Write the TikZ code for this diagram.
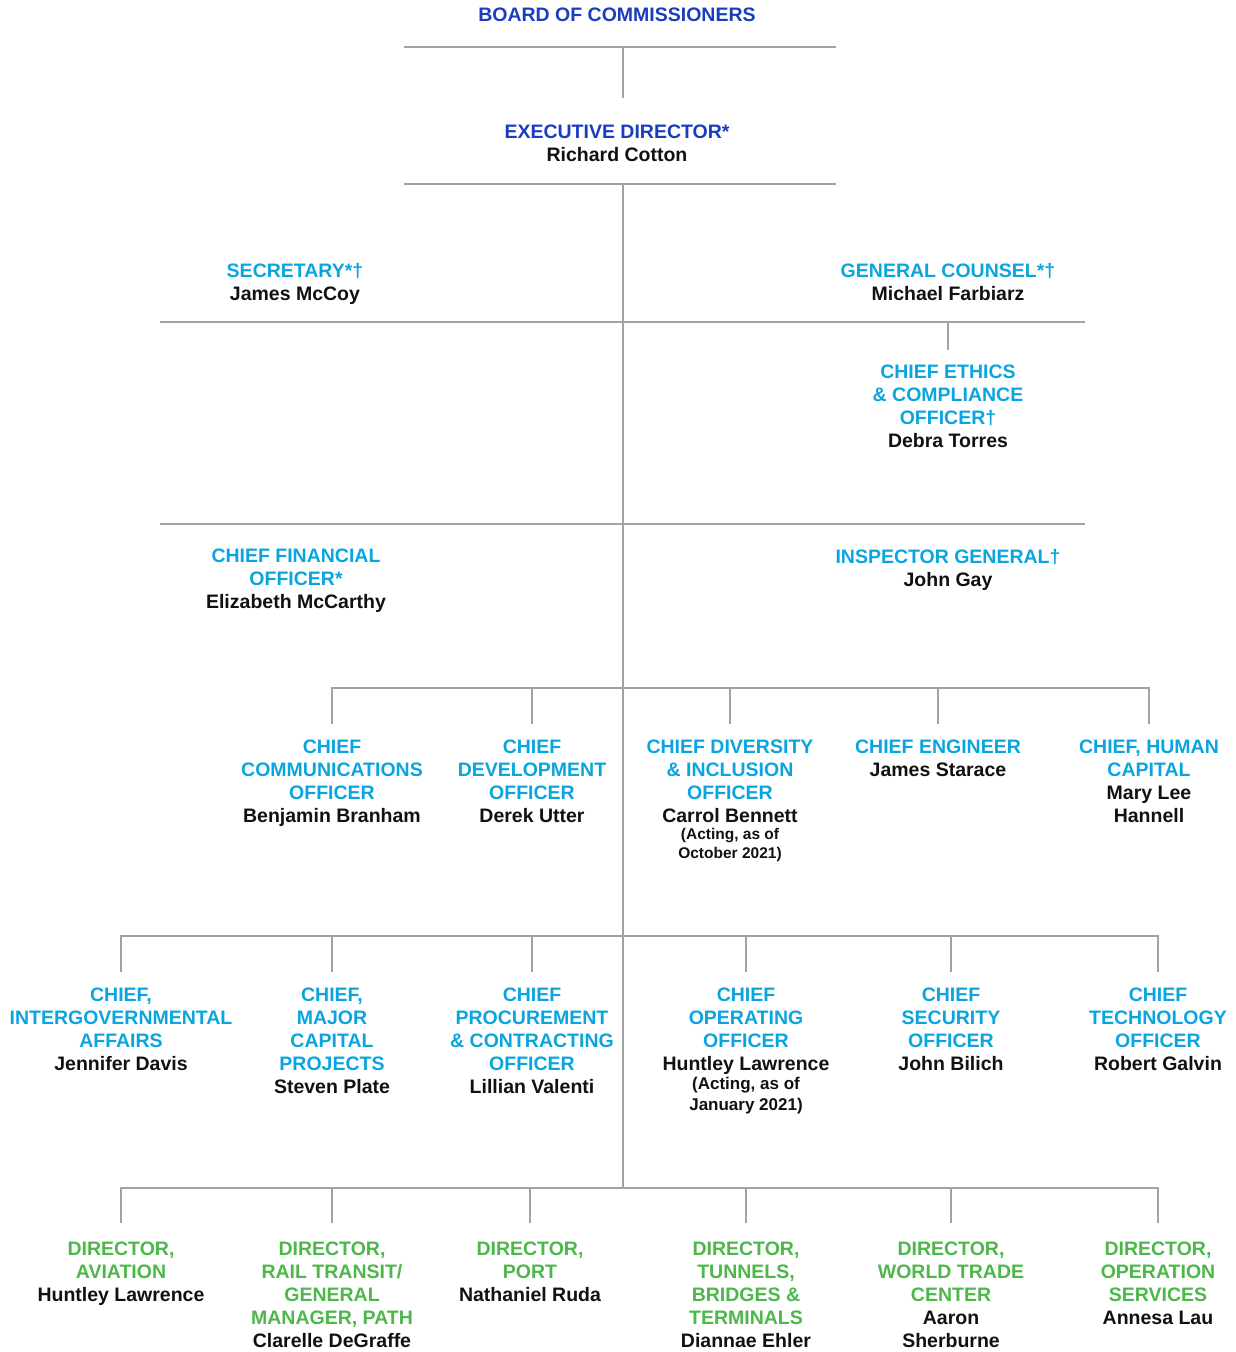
\documentclass[tikz,border=0pt]{standalone}
\usepackage{fontspec}
\setmainfont{Liberation Sans}
\definecolor{linegray}{HTML}{A3A3A3}
\definecolor{navyT}{HTML}{1A3DBF}
\definecolor{cyanT}{HTML}{0AA5DF}
\definecolor{greenT}{HTML}{4DB74A}
\definecolor{nameK}{HTML}{111111}
\newcommand{\nm}[1]{\textcolor{nameK}{#1}}
\tikzset{
  ln/.style={draw=linegray, line width=2.4pt},
  box/.style={anchor=north, inner sep=0pt, align=center,
    font=\bfseries\fontsize{19.5}{23}\selectfont},
  topbox/.style={box, text=navyT},
  chiefbox/.style={box, text=cyanT},
  dirbox/.style={box, text=greenT},
  noteA/.style={anchor=north, inner sep=0pt, align=center, text=nameK,
    font=\bfseries\fontsize{15.5}{19}\selectfont},
  noteB/.style={anchor=north, inner sep=0pt, align=center, text=nameK,
    font=\bfseries\fontsize{17}{21}\selectfont},
}
\begin{document}
\begin{tikzpicture}[x=1pt,y=-1pt]
\useasboundingbox (0,0) rectangle (1235,1352);

% ---------- nodes ----------
\node[topbox] (board) at (617,8) {BOARD OF COMMISSIONERS};
\node[topbox] (ed) at (617,125) {EXECUTIVE DIRECTOR*\\\nm{Richard Cotton}};

\node[chiefbox] (sec) at (295,263) {SECRETARY*†\\\nm{James McCoy}};
\node[chiefbox] (gc) at (948,263) {GENERAL COUNSEL*†\\\nm{Michael Farbiarz}};
\node[chiefbox] (eth) at (948,365) {CHIEF ETHICS\\\& COMPLIANCE\\OFFICER†\\\nm{Debra Torres}};
\node[chiefbox] (cfo) at (296,549) {CHIEF FINANCIAL\\OFFICER*\\\nm{Elizabeth McCarthy}};
\node[chiefbox] (ig) at (948,549) {INSPECTOR GENERAL†\\\nm{John Gay}};

% row 1
\node[chiefbox] (comm) at (332,740) {CHIEF\\COMMUNICATIONS\\OFFICER\\\nm{Benjamin Branham}};
\node[chiefbox] (dev) at (532,740) {CHIEF\\DEVELOPMENT\\OFFICER\\\nm{Derek Utter}};
\node[chiefbox] (div) at (730,740) {CHIEF DIVERSITY\\\& INCLUSION\\OFFICER\\\nm{Carrol Bennett}};
\node[noteA] (divnote) at (730,828) {(Acting, as of\\October 2021)};
\node[chiefbox] (eng) at (938,740) {CHIEF ENGINEER\\\nm{James Starace}};
\node[chiefbox] (hc) at (1149,740) {CHIEF, HUMAN\\CAPITAL\\\nm{Mary Lee}\\\nm{Hannell}};

% row 2
\node[chiefbox] (iga) at (121,988) {CHIEF,\\INTERGOVERNMENTAL\\AFFAIRS\\\nm{Jennifer Davis}};
\node[chiefbox] (mcp) at (332,988) {CHIEF,\\MAJOR\\CAPITAL\\PROJECTS\\\nm{Steven Plate}};
\node[chiefbox] (proc) at (532,988) {CHIEF\\PROCUREMENT\\\& CONTRACTING\\OFFICER\\\nm{Lillian Valenti}};
\node[chiefbox] (coo) at (746,988) {CHIEF\\OPERATING\\OFFICER\\\nm{Huntley Lawrence}};
\node[noteB] (coonote) at (746,1077) {(Acting, as of\\January 2021)};
\node[chiefbox] (cso) at (951,988) {CHIEF\\SECURITY\\OFFICER\\\nm{John Bilich}};
\node[chiefbox] (cto) at (1158,988) {CHIEF\\TECHNOLOGY\\OFFICER\\\nm{Robert Galvin}};

% row 3
\node[dirbox] (avi) at (121,1242) {DIRECTOR,\\AVIATION\\\nm{Huntley Lawrence}};
\node[dirbox] (rail) at (332,1242) {DIRECTOR,\\RAIL TRANSIT/\\GENERAL\\MANAGER, PATH\\\nm{Clarelle DeGraffe}};
\node[dirbox] (port) at (530,1242) {DIRECTOR,\\PORT\\\nm{Nathaniel Ruda}};
\node[dirbox] (tbt) at (746,1242) {DIRECTOR,\\TUNNELS,\\BRIDGES \&\\TERMINALS\\\nm{Diannae Ehler}};
\node[dirbox] (wtc) at (951,1242) {DIRECTOR,\\WORLD TRADE\\CENTER\\\nm{Aaron}\\\nm{Sherburne}};
\node[dirbox] (ops) at (1158,1242) {DIRECTOR,\\OPERATION\\SERVICES\\\nm{Annesa Lau}};

% ---------- coordinates ----------
\coordinate (b0L) at (404,47);  \coordinate (b0R) at (836,47);  \coordinate (b0) at (623,47);
\coordinate (edtop) at (623,98);
\coordinate (b1L) at (404,184); \coordinate (b1R) at (836,184); \coordinate (b1) at (623,184);
\coordinate (b2L) at (160,322); \coordinate (b2R) at (1085,322);
\coordinate (b3L) at (160,524); \coordinate (b3R) at (1085,524);
\coordinate (b4) at (623,688);
\coordinate (b5) at (623,936);
\coordinate (b6) at (623,1188);
\coordinate (ethtop) at (948,350);

% ---------- connectors ----------
\draw[ln] (b0L) -- (b0R);
\draw[ln] (b0) -- (edtop);
\draw[ln] (b1L) -- (b1R);
\draw[ln] (b1) -- (b6);
\draw[ln] (b2L) -- (b2R);
\draw[ln] (b2L -| gc.south) -- (ethtop);
\draw[ln] (b3L) -- (b3R);

% row 1 bus
\draw[ln] ([yshift=16pt]comm.north) |- (b4) -| ([yshift=16pt]hc.north);
\foreach \n in {dev,div,eng}{\draw[ln] (b4 -| \n.north) -- ([yshift=16pt]\n.north);}
% row 2 bus
\draw[ln] ([yshift=16pt]iga.north) |- (b5) -| ([yshift=16pt]cto.north);
\foreach \n in {mcp,proc,coo,cso}{\draw[ln] (b5 -| \n.north) -- ([yshift=16pt]\n.north);}
% row 3 bus
\draw[ln] ([yshift=19pt]avi.north) |- (b6) -| ([yshift=19pt]ops.north);
\foreach \n in {rail,port,tbt,wtc}{\draw[ln] (b6 -| \n.north) -- ([yshift=19pt]\n.north);}
\end{tikzpicture}
\end{document}
